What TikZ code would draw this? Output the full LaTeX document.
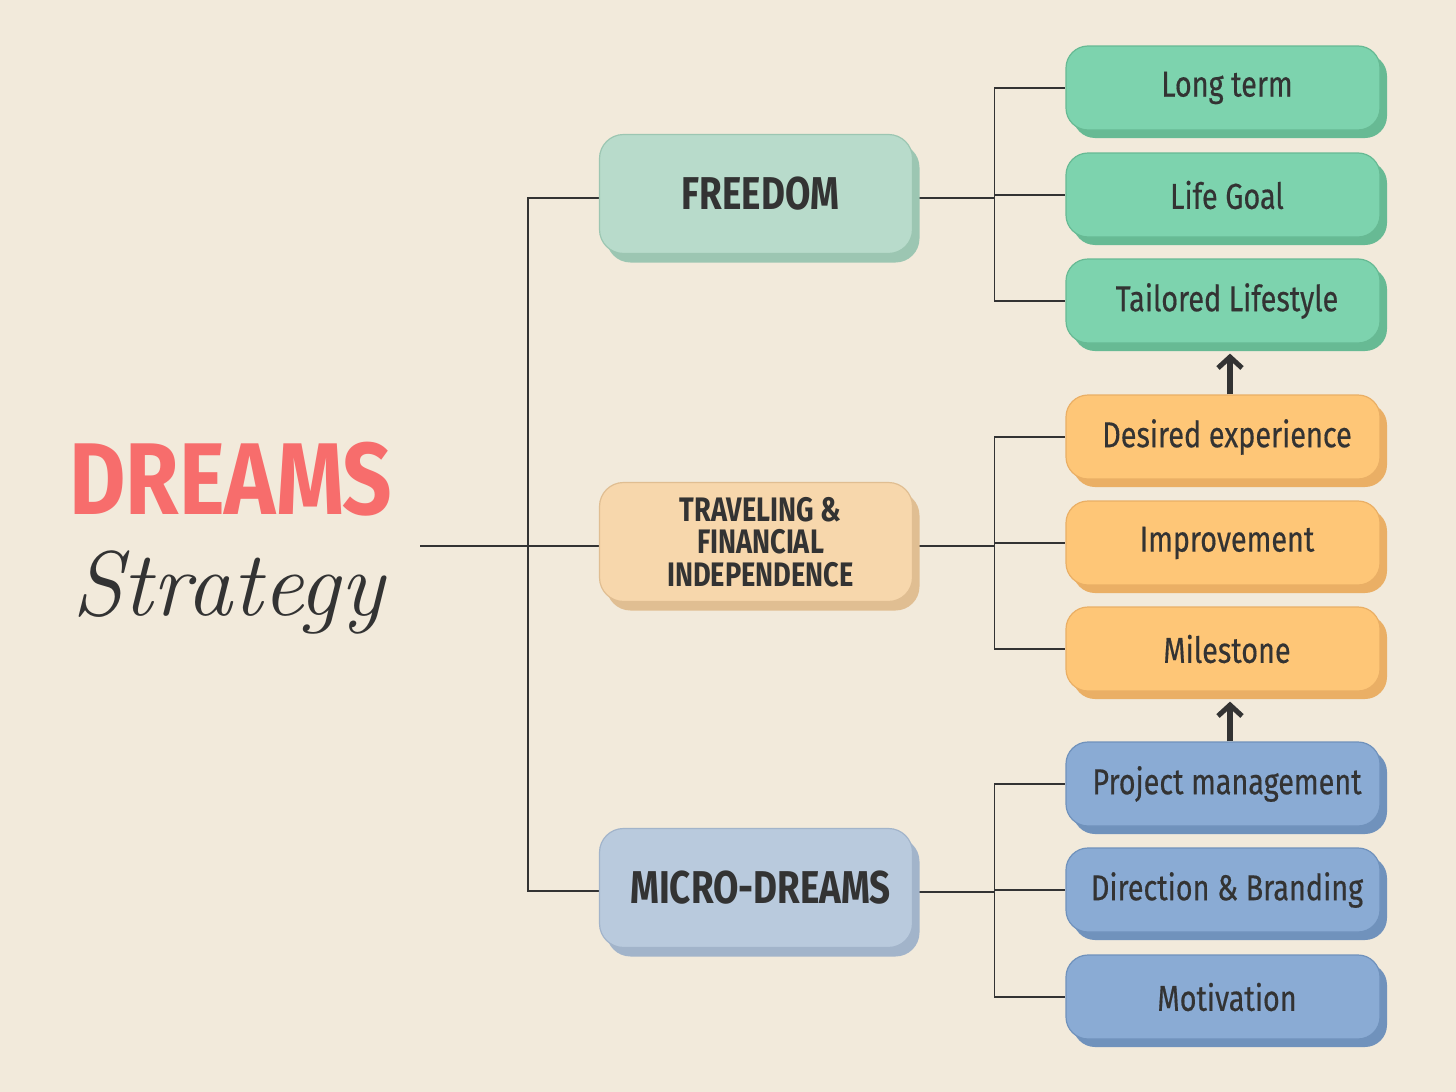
\documentclass[tikz,border=0pt]{standalone}
\usepackage{fontspec}
\newfontfamily\cf[FakeStretch=0.8]{Fira Sans}
\newfontfamily\cfm[FakeStretch=0.8,FakeBold=0.4]{Fira Sans}
\newfontfamily\cfw[FakeStretch=0.85]{Fira Sans}
\usetikzlibrary{shadows,backgrounds,arrows.meta}
\definecolor{bg}{HTML}{F2EADB}
\definecolor{ink}{HTML}{333333}
\definecolor{dreamred}{HTML}{F76D6C}
\definecolor{fmfill}{HTML}{B8DBCB}\definecolor{fmdark}{HTML}{9CC6B2}
\definecolor{gnfill}{HTML}{7DD3AE}\definecolor{gndark}{HTML}{67BA94}
\definecolor{tvfill}{HTML}{F7D7AC}\definecolor{tvdark}{HTML}{E0BE92}
\definecolor{orfill}{HTML}{FEC677}\definecolor{ordark}{HTML}{EAAF65}
\definecolor{mdfill}{HTML}{B9CADD}\definecolor{mddark}{HTML}{A2B4CA}
\definecolor{blfill}{HTML}{8AABD4}\definecolor{bldark}{HTML}{7092BC}
\tikzset{
  mainbox/.style n args={2}{rounded corners=24pt, fill=#1, draw=#2, line width=1.2pt,
    minimum width=313pt, minimum height=119pt, text=ink, align=center,
    general shadow={shadow xshift=7pt, shadow yshift=-9pt, fill=#2}},
  subbox/.style n args={2}{rounded corners=22pt, fill=#1, draw=#2, line width=1.2pt,
    minimum width=314pt, minimum height=84pt, text=ink,
    font=\cfm\fontsize{36}{40}\selectfont,
    execute at begin node={\hspace*{8pt}},
    general shadow={shadow xshift=7pt, shadow yshift=-8pt, fill=#2}},
  conn/.style={draw=ink, line width=1.1pt},
  uparrow/.style={draw=ink, line width=6pt, -{Straight Barb[length=11pt,width=24pt,line width=5pt]}},
}
\newcommand{\sh}{\hspace*{9pt}}
\begin{document}
\begin{tikzpicture}[x=1pt,y=-1pt]
\begin{pgfonlayer}{background}
\fill[bg] (0,0) rectangle (1456,1092);
\end{pgfonlayer}

% title
\node[text=dreamred, font=\cfw\bfseries\fontsize{102}{102}\selectfont] (dreams) at (231,479) {DREAMS};
\node[text=ink, font=\itshape\fontsize{92}{92}\selectfont] (strategy) at (228,592) {Strategy};
\coordinate (root) at (420,546);

% main boxes
\node[mainbox={fmfill}{fmdark}, font=\cf\bfseries\fontsize{46}{46}\selectfont] (fm) at (756,194) {\sh FREEDOM};
\node[mainbox={tvfill}{tvdark}, font=\cf\bfseries\fontsize{34}{32.5}\selectfont] (tv) at (756,542) {\sh TRAVELING \&\\\sh FINANCIAL\\\sh INDEPENDENCE};
\node[mainbox={mdfill}{mddark}, font=\cf\bfseries\fontsize{46}{46}\selectfont] (md) at (756,888) {\sh MICRO-DREAMS};

% sub boxes
\node[subbox={gnfill}{gndark}] (lt) at (1223,88) {Long term};
\node[subbox={gnfill}{gndark}] (lg) at (1223,195) {Life Goal};
\node[subbox={gnfill}{gndark}] (tl) at (1223,301) {Tailored Lifestyle};
\node[subbox={orfill}{ordark}] (de) at (1223,437) {Desired experience};
\node[subbox={orfill}{ordark}] (im) at (1223,543) {Improvement};
\node[subbox={orfill}{ordark}] (ms) at (1223,649) {Milestone};
\node[subbox={blfill}{bldark}] (pm) at (1223,784) {Project management};
\node[subbox={blfill}{bldark}] (db) at (1223,890) {Direction \& Branding};
\node[subbox={blfill}{bldark}] (mo) at (1223,997) {Motivation};

\begin{pgfonlayer}{background}
\draw[conn] (root) -- ++(108,0) coordinate (rj);
\draw[conn] (rj) |- ([yshift=-4pt]fm.west);
\draw[conn] (rj) -- (tv.west |- rj);
\draw[conn] (rj) |- ([yshift=-3pt]md.west);
\foreach \m/\a/\b/\c in {fm/lt/lg/tl, tv/de/im/ms, md/pm/db/mo}{
  \draw[conn] (\m.east) ++(0,4) -- ++(81,0) coordinate (j\m);
  \draw[conn] (j\m) |- (\a.west);
  \draw[conn] (j\m) |- (\b.west);
  \draw[conn] (j\m) |- (\c.west);
}
\end{pgfonlayer}

% arrows
\draw[uparrow] ([xshift=7pt]de.north) -- ([xshift=7pt,yshift=-10pt]tl.south);
\draw[uparrow] ([xshift=7pt]pm.north) -- ([xshift=7pt,yshift=-10pt]ms.south);
\end{tikzpicture}
\end{document}
